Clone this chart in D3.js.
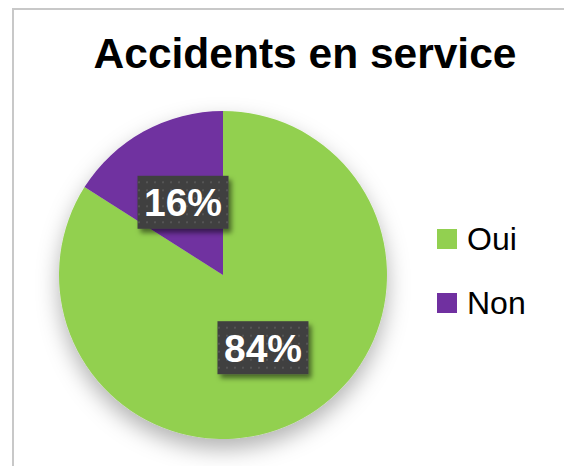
<!DOCTYPE html>
<html>
<head>
<meta charset="utf-8">
<script src="https://cdn.jsdelivr.net/npm/d3@7"></script>
<style>
  body { margin: 0; background: #fff; }
  svg { display: block; font-family: "Liberation Sans", Arial, sans-serif; }
</style>
</head>
<body>
<svg id="chart"></svg>
<script>
// data
const categories = ['Oui', 'Non']
const values = [84, 16]
const labels = ['84%', '16%']
const colors = ['#92d050', '#7030a0']

const width = 564
const height = 466

const svg = d3.select('#chart')
  .attr('width', width)
  .attr('height', height)

const defs = svg.append('defs')

// soft shadow under the pie
const pieShadow = defs.append('filter').attr('id', 'pieShadow')
  .attr('x', '-30%').attr('y', '-30%').attr('width', '160%').attr('height', '160%')
pieShadow.append('feDropShadow')
  .attr('dx', 0).attr('dy', 10).attr('stdDeviation', 11)
  .attr('flood-color', '#000').attr('flood-opacity', 0.3)

// shadow for the label boxes
const boxShadow = defs.append('filter').attr('id', 'boxShadow')
  .attr('x', '-30%').attr('y', '-30%').attr('width', '160%').attr('height', '160%')
boxShadow.append('feDropShadow')
  .attr('dx', 3).attr('dy', 4).attr('stdDeviation', 2.5)
  .attr('flood-color', '#000').attr('flood-opacity', 0.5)

// dotted dark pattern for the labels
const pat = defs.append('pattern').attr('id', 'dots')
  .attr('width', 8).attr('height', 8).attr('patternUnits', 'userSpaceOnUse')
pat.append('rect').attr('width', 8).attr('height', 8).attr('fill', '#3f3f3f')
pat.append('rect').attr('x', 3).attr('y', 3).attr('width', 2).attr('height', 2).attr('fill', '#555')

// frame (cropped at right and bottom)
svg.append('rect')
  .attr('x', 13).attr('y', 9)
  .attr('width', width).attr('height', height)
  .attr('fill', '#fff')
  .attr('stroke', '#c8c8c8').attr('stroke-width', 2)

// title
svg.append('text')
  .attr('x', 305).attr('y', 68)
  .attr('text-anchor', 'middle')
  .attr('font-size', 42.5).attr('font-weight', 'bold')
  .attr('fill', '#000')
  .text('Accidents en service')

const cx = 223, cy = 275, r = 164

const pie = d3.pie().sort(null).value(d => d)
const arcs = pie(values)
const arc = d3.arc().innerRadius(0).outerRadius(r)
const labelArc = d3.arc().innerRadius(r * 0.506).outerRadius(r * 0.506)

const g = svg.append('g').attr('transform', `translate(${cx},${cy})`)

g.append('g').attr('filter', 'url(#pieShadow)')
  .selectAll('path').data(arcs).join('path')
  .attr('d', arc)
  .attr('fill', (d, i) => colors[i])

// data labels
const boxW = 91, boxH = 53
const lab = g.selectAll('.lab').data(arcs).join('g')
  .attr('class', 'lab')
  .attr('transform', d => `translate(${labelArc.centroid(d)})`)
lab.append('rect')
  .attr('x', -boxW / 2).attr('y', -boxH / 2)
  .attr('width', boxW).attr('height', boxH)
  .attr('fill', 'url(#dots)')
  .attr('filter', 'url(#boxShadow)')
lab.append('text')
  .attr('text-anchor', 'middle')
  .attr('dy', 14)
  .attr('font-size', 39).attr('font-weight', 'bold')
  .attr('fill', '#fff')
  .text((d, i) => labels[i])

// legend
const legend = svg.append('g').attr('transform', 'translate(437,229)')
const item = legend.selectAll('g').data(categories).join('g')
  .attr('transform', (d, i) => `translate(0,${i * 64})`)
item.append('rect')
  .attr('width', 20).attr('height', 20)
  .attr('fill', (d, i) => colors[i])
item.append('text')
  .attr('x', 30).attr('y', 21)
  .attr('font-size', 32)
  .attr('fill', '#000')
  .text(d => d)
</script>
</body>
</html>
